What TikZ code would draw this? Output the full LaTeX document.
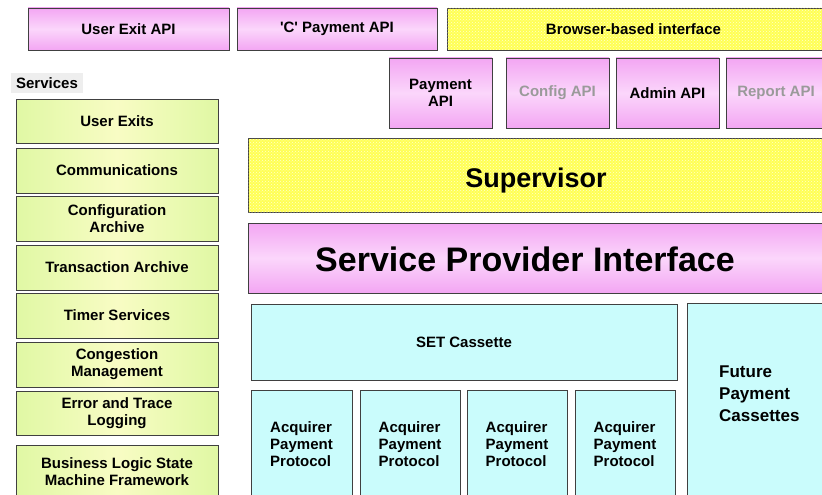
\documentclass[tikz,border=0pt]{standalone}
\usepackage{fontspec}
\setmainfont{Liberation Sans}
\usetikzlibrary{patterns}
\definecolor{pinkA}{HTML}{F3A6F3}
\definecolor{pinkB}{HTML}{FBD6FB}
\definecolor{grnA}{HTML}{E0F8A4}
\definecolor{grnB}{HTML}{F8FCC4}
\definecolor{yelA}{HTML}{FFFF55}
\definecolor{yelB}{HTML}{FFFFCC}
\definecolor{cyanA}{HTML}{CAFCFC}
\definecolor{greytxt}{HTML}{9A9A9A}
\definecolor{lblbg}{HTML}{EEEEEE}
\tikzset{
  base/.style={draw=black!75, line width=0.7pt, inner sep=1pt, outer sep=0pt, align=center,
    font=\bfseries\fontsize{15}{17}\selectfont},
  pinkbox/.style={base, top color=pinkA, bottom color=pinkA, middle color=pinkB},
  greenbox/.style={base, left color=grnA, right color=grnA, middle color=grnB, minimum width=202},
  yelbox/.style={base, fill=yelA, postaction={pattern=crosshatch dots, pattern color=yelB}},
  cyanbox/.style={base, fill=cyanA},
  acqbox/.style={cyanbox, minimum height=108, align=left},
  apibox/.style={pinkbox, minimum width=103, minimum height=70},
}
\begin{document}
\begin{tikzpicture}[x=1pt,y=-1pt]
\useasboundingbox (0,0) rectangle (822,495);
\fill[white] (0,0) rectangle (822,495);
\clip (0,0) rectangle (822,495);

% top row
\node[pinkbox, minimum width=201, minimum height=42] (uexapi) at (128.5,29) {User Exit API};
\node[pinkbox, minimum width=200, minimum height=42] (capi) at (337,29) {\textquotesingle C\textquotesingle{} Payment API};
\node[yelbox, minimum width=377, minimum height=42] (browser) at (635.5,29) {Browser-based interface\hspace{4pt}};

% API row
\node[apibox] (payapi) at (440.5,93) {Payment\\API};
\node[apibox, text=greytxt] (cfgapi) at (557.5,93) {Config API};
\node[apibox] (admapi) at (667.5,93) {Admin API};
\node[apibox, minimum width=100, text=greytxt] (repapi) at (776,93) {Report API};

% Services label
\node[fill=lblbg, minimum width=72, minimum height=20, inner sep=0pt, font=\bfseries\fontsize{15}{17}\selectfont] (svclbl) at (47,83) {Services\hspace{8pt}};

% left column
\node[greenbox, minimum height=44] (uexits) at (117,121) {User Exits};
\node[greenbox, minimum height=45] (comm) at (117,170.5) {Communications};
\node[greenbox, minimum height=45] (cfgarch) at (117,218.5) {Configuration\\Archive};
\node[greenbox, minimum height=45] (trans) at (117,267.5) {Transaction Archive};
\node[greenbox, minimum height=45] (timer) at (117,315.5) {Timer Services};
\node[greenbox, minimum height=45] (cong) at (117,364.5) {Congestion\\Management};
\node[greenbox, minimum height=44] (err) at (117,413) {Error and Trace\\Logging};
\node[greenbox, minimum height=53] (bus) at (117,471.5) {Business Logic State\\Machine Framework};

% supervisor and SPI
\node[yelbox, minimum width=576, minimum height=74, font=\bfseries\fontsize{27}{30}\selectfont] (sup) at (536,175) {\raisebox{-12pt}[0pt][0pt]{Supervisor}};
\node[pinkbox, minimum width=576, minimum height=70, font=\bfseries\fontsize{34}{38}\selectfont] (spi) at (536,258) {\raisebox{-13pt}[0pt][0pt]{Service Provider Interface}\hspace{22pt}};

% cassettes
\node[cyanbox, minimum width=426, minimum height=76] (set) at (464,342) {SET Cassette};
\node[cyanbox, minimum width=139, minimum height=195] (future) at (756.5,400.5) {};
\node[anchor=west, align=left, inner sep=0pt, font=\bfseries\fontsize{17}{22}\selectfont] (futtxt) at (719,394) {Future\\Payment\\Cassettes};

\node[acqbox, minimum width=101] (acq1) at (301.5,444) {Acquirer\\Payment\\Protocol};
\node[acqbox, minimum width=100] (acq2) at (410,444) {Acquirer\\Payment\\Protocol};
\node[acqbox, minimum width=100] (acq3) at (517,444) {Acquirer\\Payment\\Protocol};
\node[acqbox, minimum width=100] (acq4) at (625,444) {Acquirer\\Payment\\Protocol};
\end{tikzpicture}
\end{document}
